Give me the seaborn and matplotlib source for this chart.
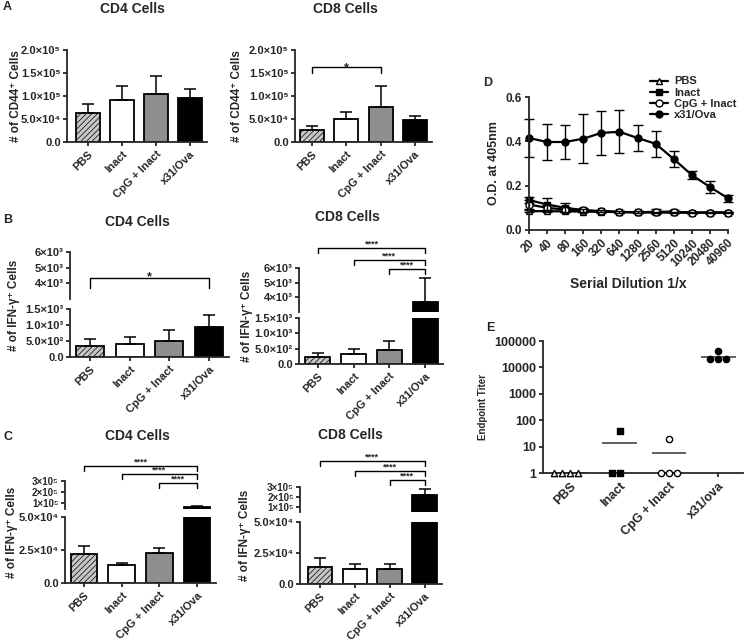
import numpy as np
import pandas as pd
import matplotlib.pyplot as plt
import seaborn as sns

W, H = 747, 641

# ---- bar panels (A, B, C) ----
groups = ["PBS", "Inact", "CpG + Inact", "x31/Ova"]
bar_colors = ["#c6c6c6", "#ffffff", "#8e8e8e", "#000000"]

cd44_cd4_mean = [6.2e4, 9.2e4, 1.05e5, 9.5e4]
cd44_cd4_sem = [2.0e4, 2.9e4, 3.9e4, 2.0e4]
cd44_cd8_mean = [2.7e4, 5.0e4, 7.7e4, 4.8e4]
cd44_cd8_sem = [0.8e4, 1.5e4, 4.4e4, 0.8e4]

ifn_b_cd4_mean = [350, 420, 500, 940]
ifn_b_cd4_sem = [220, 190, 350, 380]
ifn_b_cd8_mean = [220, 330, 460, 3700]
ifn_b_cd8_sem = [130, 160, 300, 1650]

ifn_c_cd4_mean = [2.2e4, 1.36e4, 2.27e4, 6.9e4]
ifn_c_cd4_sem = [0.6e4, 0.14e4, 0.38e4, 0.9e4]
ifn_c_cd8_mean = [1.37e4, 1.2e4, 1.2e4, 2.2e5]
ifn_c_cd8_sem = [0.73e4, 0.4e4, 0.45e4, 0.6e5]

# y tick labels
a_ticks = [0, 5e4, 1e5, 1.5e5, 2e5]
a_labels = ["0.0", "5.0×10⁴", "1.0×10⁵", "1.5×10⁵", "2.0×10⁵"]
b_top_ticks = [4e3, 5e3, 6e3]
b_top_labels = ["4×10³", "5×10³", "6×10³"]
b_bot_ticks = [0, 5e2, 1e3, 1.5e3]
b_bot_labels = ["0.0", "5.0×10²", "1.0×10³", "1.5×10³"]
c_top_ticks = [1e5, 2e5, 3e5]
c_top_labels = ["1×10⁵", "2×10⁵", "3×10⁵"]
c_bot_ticks = [0, 2.5e4, 5e4]
c_bot_labels = ["0.0", "2.5×10⁴", "5.0×10⁴"]

# ---- D: ELISA dilution curves ----
dilutions = [20, 40, 80, 160, 320, 640, 1280, 2560, 5120, 10240, 20480, 40960]
od_pbs = [0.085, 0.085, 0.084, 0.083, 0.082, 0.081, 0.080, 0.080, 0.080, 0.079, 0.079, 0.079]
od_pbs_sem = [0.006, 0.005, 0.005, 0.004, 0.004, 0.004, 0.004, 0.004, 0.004, 0.003, 0.003, 0.003]
od_inact = [0.135, 0.115, 0.100, 0.090, 0.085, 0.082, 0.080, 0.082, 0.083, 0.078, 0.078, 0.078]
od_inact_sem = [0.015, 0.030, 0.020, 0.010, 0.006, 0.005, 0.005, 0.012, 0.008, 0.004, 0.004, 0.004]
od_cpg = [0.115, 0.100, 0.092, 0.088, 0.084, 0.081, 0.080, 0.079, 0.079, 0.078, 0.078, 0.078]
od_cpg_sem = [0.020, 0.012, 0.010, 0.006, 0.005, 0.004, 0.004, 0.004, 0.004, 0.003, 0.003, 0.003]
od_x31 = [0.415, 0.397, 0.397, 0.412, 0.438, 0.443, 0.415, 0.389, 0.320, 0.248, 0.194, 0.143]
od_x31_sem = [0.085, 0.080, 0.077, 0.110, 0.100, 0.097, 0.058, 0.058, 0.038, 0.018, 0.028, 0.015]
d_legend = ["PBS", "Inact", "CpG + Inact", "x31/Ova"]

# ---- E: endpoint titers ----
e_groups = ["PBS", "Inact", "CpG + Inact", "x31/ova"]
titer_pbs = [1, 1, 1, 1]
titer_inact = [1, 1, 40]
titer_cpg = [1, 1, 1, 20]
titer_x31 = [20480, 20480, 20480, 40960]
e_ticks = [1, 10, 100, 1000, 10000, 100000]
e_labels = ["1", "10", "100", "1000", "10000", "100000"]

sns.set_style("ticks")
plt.rcParams["font.family"] = ["Liberation Sans", "DejaVu Sans"]
plt.rcParams["font.weight"] = "bold"
plt.rcParams["axes.labelweight"] = "bold"
plt.rcParams["hatch.linewidth"] = 0.5
plt.rcParams["axes.linewidth"] = 1.3

fig = plt.figure(figsize=(W / 100, H / 100), dpi=100)


def add_ax(l, t, r, b):
    return fig.add_axes([l / W, 1 - b / H, (r - l) / W, (b - t) / H])


def bold_ticks(ax):
    for lab in ax.get_xticklabels() + ax.get_yticklabels():
        lab.set_fontweight("bold")


def draw_bars(ax, means, sems):
    sns.barplot(x=groups, y=means, hue=groups, palette=bar_colors, order=groups,
                hue_order=groups, legend=False, width=0.7, saturation=1,
                edgecolor="black", linewidth=1.3, ax=ax)
    ax.patches[0].set_hatch("//////")
    ax.errorbar(np.arange(len(means)), means, yerr=[np.zeros(len(sems)), sems],
                fmt="none", ecolor="black", elinewidth=1.1, capsize=4.5, capthick=1.1)
    ax.set_xlabel("")
    ax.set_ylabel("")


def style_bottom(ax, ticks, labels, xlim):
    ax.set_xlim(*xlim)
    ax.set_yticks(ticks)
    ax.set_yticklabels(labels)
    ax.set_xticks(range(len(groups)))
    ax.set_xticklabels(groups, rotation=45, ha="right", rotation_mode="anchor")
    ax.tick_params(axis="y", width=1.3, length=3, labelsize=8, pad=1.5)
    ax.tick_params(axis="x", width=1.3, length=3, labelsize=8, pad=2)
    bold_ticks(ax)
    sns.despine(ax=ax)


def style_top(ax, ticks, labels, xlim, ylim, size):
    ax.set_xlim(*xlim)
    ax.set_ylim(*ylim)
    ax.set_yticks(ticks)
    ax.set_yticklabels(labels)
    ax.tick_params(axis="y", width=1.3, length=3, labelsize=size, pad=1.5)
    ax.tick_params(axis="x", bottom=False, labelbottom=False)
    bold_ticks(ax)
    sns.despine(ax=ax, bottom=True)


def bracket(ax, x1, x2, y, drop, label, size=7, gap=0.0):
    ax.plot([x1, x1, x2, x2], [y - drop, y, y, y - drop], color="black", lw=1.0,
            clip_on=False)
    ax.text((x1 + x2) / 2, y + gap, label, ha="center", va="bottom", fontsize=size,
            fontweight="bold", clip_on=False)


def single_panel(box, xlim, means, sems):
    ax = add_ax(*box)
    draw_bars(ax, means, sems)
    ax.set_ylim(0, 2e5)
    style_bottom(ax, a_ticks, a_labels, xlim)
    return ax


def broken_panel(top_box, bot_box, xlim, means, sems, top_ylim, bot_ylim,
                 top_ticks, top_labels, bot_ticks, bot_labels, top_size=8):
    ax_t = add_ax(*top_box)
    ax_b = add_ax(*bot_box)
    draw_bars(ax_t, means, sems)
    draw_bars(ax_b, means, sems)
    style_top(ax_t, top_ticks, top_labels, xlim, top_ylim, top_size)
    ax_b.set_ylim(*bot_ylim)
    style_bottom(ax_b, bot_ticks, bot_labels, xlim)
    return ax_t, ax_b


# A
ax_a4 = single_panel((67, 50, 207, 142), (-0.62, 3.5), cd44_cd4_mean, cd44_cd4_sem)
ax_a8 = single_panel((295, 50, 432, 142), (-0.5, 3.5), cd44_cd8_mean, cd44_cd8_sem)
bracket(ax_a8, 0, 2, 1.62e5, 1.3e4, "*", size=9, gap=-0.15e5)

# B
bt4, bb4 = broken_panel((70, 252, 229, 299), (70, 309, 229, 357), (-0.5, 3.5),
                        ifn_b_cd4_mean, ifn_b_cd4_sem, (3e3, 6e3), (0, 1.5e3),
                        b_top_ticks, b_top_labels, b_bot_ticks, b_bot_labels)
bracket(bt4, 0, 3, 4.35e3, 0.65e3, "*", size=9, gap=-0.35e3)
bt8, bb8 = broken_panel((299, 268, 443, 312), (299, 318, 443, 364), (-0.53, 3.5),
                        ifn_b_cd8_mean, ifn_b_cd8_sem, (3e3, 6e3), (0, 1.5e3),
                        b_top_ticks, b_top_labels, b_bot_ticks, b_bot_labels)
for x1, yb in zip([0, 1, 2], [7.36e3, 6.55e3, 5.93e3]):
    bracket(bt8, x1, 3, yb, 0.35e3, "****", size=6.5, gap=-0.05e3)

# C
ct4, cb4 = broken_panel((65, 481, 216, 509), (65, 517, 216, 583), (-0.5, 3.5),
                        ifn_c_cd4_mean, ifn_c_cd4_sem, (5e4, 3e5), (0, 5e4),
                        c_top_ticks, c_top_labels, c_bot_ticks, c_bot_labels, top_size=7)
for x1, yb in zip([0, 1, 2], [4.34e5, 3.63e5, 2.82e5]):
    bracket(ct4, x1, 3, yb, 0.45e5, "****", size=6.5, gap=-0.01e5)
ct8, cb8 = broken_panel((300, 487, 442, 512), (300, 522, 442, 584), (-0.57, 3.5),
                        ifn_c_cd8_mean, ifn_c_cd8_sem, (5e4, 3e5), (0, 5e4),
                        c_top_ticks, c_top_labels, c_bot_ticks, c_bot_labels, top_size=7)
for x1, yb in zip([0, 1, 2], [5.6e5, 4.6e5, 3.7e5]):
    bracket(ct8, x1, 3, yb, 0.5e5, "****", size=6.5, gap=-0.01e5)

# titles, letters, y labels
for x, y, s in [(132, 9, "CD4 Cells"), (345, 9, "CD8 Cells"), (137, 222, "CD4 Cells"),
                (347, 217, "CD8 Cells"), (137, 436, "CD4 Cells"), (350, 435, "CD8 Cells")]:
    fig.text(x / W, 1 - y / H, s, ha="center", va="center", fontsize=10, fontweight="bold")
for x, y, s in [(7, 7, "A"), (8, 220, "B"), (8, 437, "C"), (488, 83, "D"), (490, 328, "E")]:
    fig.text(x / W, 1 - y / H, s, ha="center", va="center", fontsize=9, fontweight="bold")
for x, y, s in [(16, 96, "# of CD44⁺ Cells"), (237, 96, "# of CD44⁺ Cells"),
                (14, 305, "# of IFN-γ⁺ Cells"), (247, 316, "# of IFN-γ⁺ Cells"),
                (12, 532, "# of IFN-γ⁺ Cells"), (245, 535, "# of IFN-γ⁺ Cells")]:
    fig.text(x / W, 1 - y / H, s, ha="center", va="center", rotation=90, fontsize=8.5,
             fontweight="bold")

# D
ax_d = add_ax(529, 97, 728, 230)
ax_d.set_xscale("log", base=2)
d_series = [(od_pbs, od_pbs_sem, "^", "white"), (od_inact, od_inact_sem, "s", "black"),
            (od_cpg, od_cpg_sem, "o", "white"), (od_x31, od_x31_sem, "o", "black")]
for (vals, sem, mk, fc), name in zip(d_series, d_legend):
    sns.lineplot(x=dilutions, y=vals, marker=mk, markerfacecolor=fc, markeredgecolor="black",
                 markeredgewidth=1.0, markersize=5, color="black", linewidth=1.6,
                 label=name, ax=ax_d, clip_on=False)
    ax_d.errorbar(dilutions, vals, yerr=sem, fmt="none", ecolor="black", elinewidth=1.0,
                  capsize=3.5, capthick=1.0, clip_on=False)
ax_d.set_xlim(20, 40960)
ax_d.set_ylim(0, 0.6)
ax_d.set_yticks([0.0, 0.2, 0.4, 0.6])
ax_d.set_xticks(dilutions)
ax_d.set_xticklabels([str(d) for d in dilutions], rotation=45, ha="right",
                     rotation_mode="anchor")
ax_d.xaxis.set_minor_locator(plt.NullLocator())
ax_d.tick_params(axis="both", width=1.3, length=3, labelsize=8.5, pad=2)
bold_ticks(ax_d)
ax_d.set_xlabel("Serial Dilution 1/x", fontsize=10, fontweight="bold", labelpad=6)
ax_d.set_ylabel("O.D. at 405nm", fontsize=9, fontweight="bold", labelpad=4)
sns.despine(ax=ax_d)
handles, labels = ax_d.get_legend_handles_labels()
ax_d.get_legend().remove()
fig.legend(handles, labels, loc="upper left", bbox_to_anchor=(646 / W, 1 - 72 / H),
           frameon=False, prop={"size": 8, "weight": "bold"}, handlelength=1.6,
           labelspacing=0.1, handletextpad=0.5, borderaxespad=0)

# E
ax_e = add_ax(543, 341, 743, 473)
ax_e.set_yscale("log")
e_df = pd.DataFrame({
    "group": [e_groups[0]] * len(titer_pbs) + [e_groups[1]] * len(titer_inact)
    + [e_groups[2]] * len(titer_cpg) + [e_groups[3]] * len(titer_x31),
    "titer": titer_pbs + titer_inact + titer_cpg + titer_x31,
})
e_marks = [("^", "white"), ("s", "black"), ("o", "white"), ("o", "black")]
for g, (mk, fc) in zip(e_groups, e_marks):
    sns.swarmplot(data=e_df[e_df["group"] == g], x="group", y="titer", order=e_groups,
                  marker=mk, color=fc, edgecolor="black", linewidth=1.0, size=4.5, ax=ax_e)
for coll in ax_e.collections:
    coll.set_clip_on(False)
e_means = e_df.groupby("group", sort=False)["titer"].mean().reindex(e_groups)
ax_e.hlines(e_means.values, np.arange(4) - 0.35, np.arange(4) + 0.35, color="#555555",
            lw=1.3)
ax_e.set_xlim(-0.55, 3.5)
ax_e.set_ylim(1, 1e5)
ax_e.set_yticks(e_ticks)
ax_e.set_yticklabels(e_labels)
ax_e.yaxis.set_minor_locator(plt.NullLocator())
ax_e.set_xticks(range(4))
ax_e.set_xticklabels(e_groups, rotation=45, ha="right", rotation_mode="anchor")
ax_e.tick_params(axis="both", width=1.3, length=3, labelsize=9, pad=2)
bold_ticks(ax_e)
ax_e.set_xlabel("")
ax_e.set_ylabel("Endpoint Titer", fontsize=7, fontweight="bold", labelpad=4)
sns.despine(ax=ax_e)

fig.savefig("out.png", dpi=100)
